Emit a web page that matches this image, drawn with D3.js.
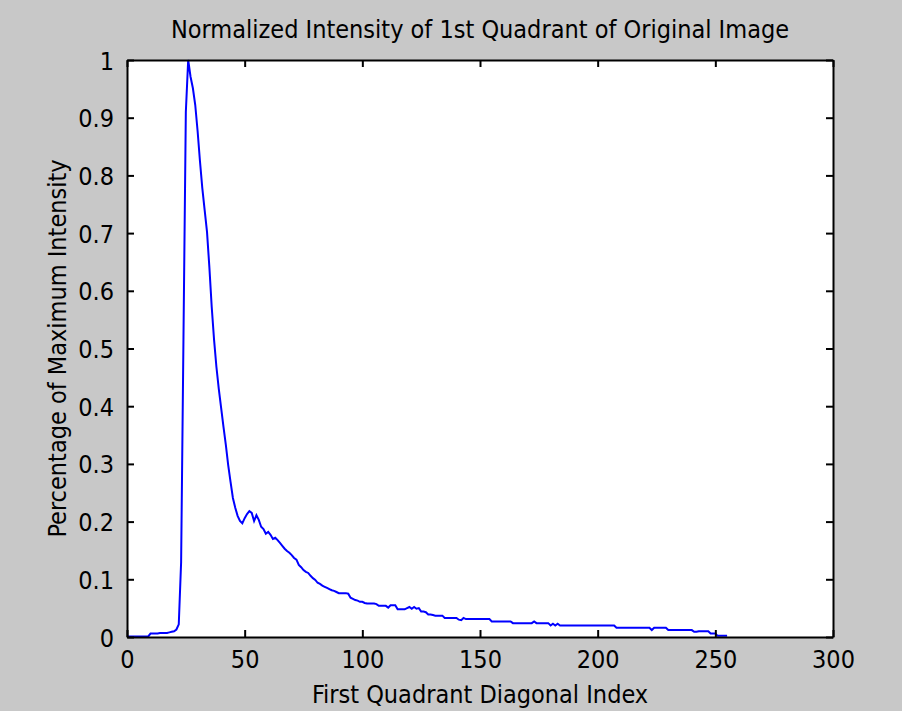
<!DOCTYPE html>
<html>
<head>
<meta charset="utf-8">
<script src="https://cdn.jsdelivr.net/npm/d3@7"></script>
<style>
  body { margin: 0; background: #c8c8c8; }
  svg text { font-family: "Liberation Sans Narrow", "Arial Narrow", "DejaVu Sans Condensed", sans-serif; fill: #000; }
</style>
</head>
<body>
<div id="wrapper"></div>
<script>
// normalized intensity along the first quadrant diagonal (index 0..255)
const intensity = [
  0.001, 0.001, 0.001, 0.001, 0.001, 0.001, 0.001, 0.001, 0.001, 0.001,
  0.006, 0.006, 0.006, 0.006, 0.007, 0.007, 0.007, 0.007,
  0.008, 0.009, 0.010, 0.013, 0.022,
  0.13, 0.52, 0.91, 1.0,
  0.971, 0.951, 0.922, 0.877, 0.825, 0.778, 0.740, 0.702, 0.641, 0.572, 0.515, 0.468,
  0.430, 0.397, 0.364, 0.333, 0.298, 0.269, 0.241, 0.224, 0.210, 0.201, 0.197,
  0.206, 0.213, 0.218, 0.215, 0.201, 0.211, 0.203, 0.191, 0.187, 0.179, 0.182,
  0.177, 0.170, 0.172, 0.168, 0.163, 0.158, 0.153, 0.149, 0.146, 0.142, 0.137, 0.134,
  0.125, 0.121, 0.116, 0.113, 0.111, 0.106, 0.102, 0.099, 0.094, 0.092, 0.089, 0.087, 0.085,
  0.083, 0.081, 0.080, 0.078, 0.076, 0.076, 0.076, 0.076, 0.075,
  0.068, 0.066, 0.064, 0.063, 0.061, 0.061, 0.059, 0.058, 0.058, 0.058, 0.058, 0.057,
  0.054, 0.054, 0.054, 0.054, 0.051, 0.055, 0.055, 0.055, 0.048, 0.048, 0.048, 0.048,
  0.050, 0.052, 0.049, 0.052, 0.049, 0.050, 0.044, 0.044, 0.043, 0.039, 0.039, 0.038,
  0.037, 0.037, 0.037, 0.037, 0.033, 0.033, 0.033, 0.033, 0.033, 0.033, 0.030, 0.029,
  0.033, 0.031, 0.031, 0.031, 0.031, 0.031, 0.031, 0.031, 0.031, 0.031, 0.031, 0.031,
  0.027, 0.027, 0.027, 0.027, 0.027, 0.027, 0.027, 0.027, 0.027,
  0.024, 0.024, 0.024, 0.024, 0.024, 0.024, 0.024, 0.024, 0.024,
  0.027,
  0.024, 0.024, 0.024, 0.024, 0.024, 0.024,
  0.020, 0.023, 0.020, 0.023,
  0.020, 0.020, 0.020, 0.020, 0.020, 0.020, 0.020, 0.020, 0.020, 0.020, 0.020, 0.020,
  0.020, 0.020, 0.020, 0.020, 0.020, 0.020, 0.020, 0.020, 0.020, 0.020, 0.020, 0.020,
  0.016, 0.016, 0.016, 0.016, 0.016, 0.016, 0.016, 0.016, 0.016, 0.016, 0.016, 0.016, 0.016, 0.016, 0.016,
  0.012,
  0.016, 0.016, 0.016, 0.016, 0.016, 0.016,
  0.012, 0.012, 0.012, 0.012, 0.012, 0.012, 0.012, 0.012, 0.012, 0.012, 0.012,
  0.009, 0.009,
  0.010, 0.010, 0.010, 0.010, 0.010,
  0.006, 0.006, 0.006,
  0.002, 0.002, 0.002, 0.002, 0.002
]

const xTicks = [0, 50, 100, 150, 200, 250, 300]
const xTickLabels = ["0", "50", "100", "150", "200", "250", "300"]
const yTicks = [0, 0.1, 0.2, 0.3, 0.4, 0.5, 0.6, 0.7, 0.8, 0.9, 1]
const yTickLabels = ["0", "0.1", "0.2", "0.3", "0.4", "0.5", "0.6", "0.7", "0.8", "0.9", "1"]

const titleText = "Normalized Intensity of 1st Quadrant of Original Image"
const xLabelText = "First Quadrant Diagonal Index"
const yLabelText = "Percentage of Maximum Intensity"

// 1. Dimensions
let dimensions = {
  width: 902,
  height: 711,
  margin: { top: 60, right: 69, bottom: 74, left: 127 },
}
dimensions.boundedWidth = dimensions.width - dimensions.margin.left - dimensions.margin.right
dimensions.boundedHeight = dimensions.height - dimensions.margin.top - dimensions.margin.bottom

const fontSize = 25
const tickLen = 7

// 2. Canvas
const wrapper = d3.select("#wrapper")
  .append("svg")
    .attr("width", dimensions.width)
    .attr("height", dimensions.height)

wrapper.append("rect")
  .attr("width", dimensions.width)
  .attr("height", dimensions.height)
  .attr("fill", "#c8c8c8")

const bounds = wrapper.append("g")
  .attr("transform", `translate(${dimensions.margin.left},${dimensions.margin.top})`)

bounds.append("rect")
  .attr("width", dimensions.boundedWidth)
  .attr("height", dimensions.boundedHeight)
  .attr("fill", "#fff")

// 3. Scales
const xScale = d3.scaleLinear()
  .domain([xTicks[0], xTicks[xTicks.length - 1]])
  .range([0, dimensions.boundedWidth])

const yScale = d3.scaleLinear()
  .domain([yTicks[0], yTicks[yTicks.length - 1]])
  .range([dimensions.boundedHeight, 0])

// 4. Data line
const lineGenerator = d3.line()
  .x((d, i) => xScale(i))
  .y(d => yScale(d))

bounds.append("path")
  .attr("d", lineGenerator(intensity))
  .attr("fill", "none")
  .attr("stroke", "#0000ff")
  .attr("stroke-width", 2)
  .attr("stroke-linejoin", "miter")

// 5. Axes (matlab style: ticks pointing in, box all round)
const styleAxis = g => {
  g.selectAll(".domain").attr("stroke", "#000").attr("stroke-width", 2)
  g.selectAll(".tick line").attr("stroke", "#000").attr("stroke-width", 2)
  g.selectAll("text")
    .style("font-size", `${fontSize}px`)
    .attr("fill", "#000")
}

const xAxis = bounds.append("g")
  .attr("transform", `translate(0,${dimensions.boundedHeight})`)
  .call(d3.axisBottom(xScale)
    .tickValues(xTicks)
    .tickFormat((d, i) => xTickLabels[i])
    .tickSizeInner(-tickLen)
    .tickSizeOuter(0)
    .tickPadding(13))
  .call(styleAxis)
xAxis.selectAll("text").attr("dy", "0.71em")

const xAxisTop = bounds.append("g")
  .call(d3.axisTop(xScale)
    .tickValues(xTicks)
    .tickFormat("")
    .tickSizeInner(-tickLen)
    .tickSizeOuter(0))
  .call(styleAxis)

const yAxis = bounds.append("g")
  .call(d3.axisLeft(yScale)
    .tickValues(yTicks)
    .tickFormat((d, i) => yTickLabels[i])
    .tickSizeInner(-tickLen)
    .tickSizeOuter(0)
    .tickPadding(13))
  .call(styleAxis)
yAxis.selectAll("text").attr("dy", "0.36em")

const yAxisRight = bounds.append("g")
  .attr("transform", `translate(${dimensions.boundedWidth},0)`)
  .call(d3.axisRight(yScale)
    .tickValues(yTicks)
    .tickFormat("")
    .tickSizeInner(-tickLen)
    .tickSizeOuter(0))
  .call(styleAxis)

// 6. Labels
wrapper.append("text")
  .attr("x", dimensions.margin.left + dimensions.boundedWidth / 2)
  .attr("y", 38)
  .attr("text-anchor", "middle")
  .style("font-size", `${fontSize}px`)
  .text(titleText)

wrapper.append("text")
  .attr("x", dimensions.margin.left + dimensions.boundedWidth / 2)
  .attr("y", 703)
  .attr("text-anchor", "middle")
  .style("font-size", `${fontSize}px`)
  .text(xLabelText)

wrapper.append("text")
  .attr("transform", `translate(66,${dimensions.margin.top + dimensions.boundedHeight / 2}) rotate(-90)`)
  .attr("text-anchor", "middle")
  .style("font-size", `${fontSize}px`)
  .text(yLabelText)
</script>
</body>
</html>
